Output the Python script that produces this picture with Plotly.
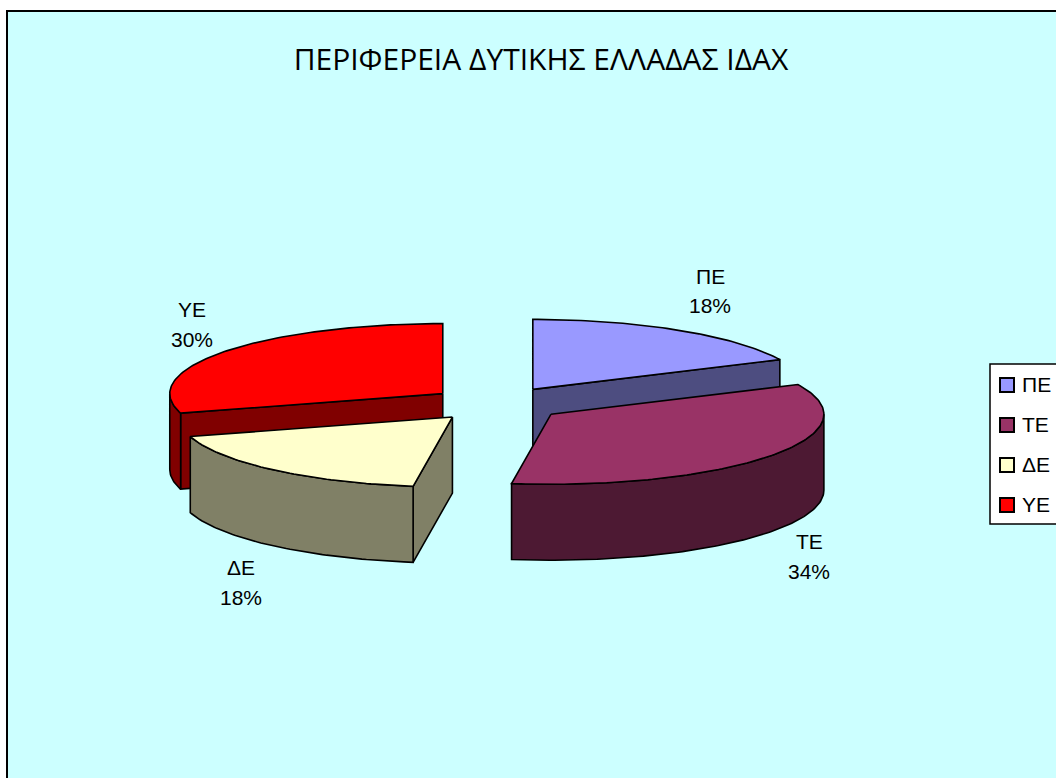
import math
import plotly.graph_objects as go

# --- data ---
categories = ["ΠΕ", "ΤΕ", "ΔΕ", "ΥΕ"]
values = [18.0, 34.3, 18.2, 29.5]
title_text = "ΠΕΡΙΦΕΡΕΙΑ ΔΥΤΙΚΗΣ ΕΛΛΑΔΑΣ ΙΔΑΧ"

# --- styles and layout ---
top_colors = ["#9999FF", "#993366", "#FFFFCC", "#FF0000"]
side_colors = ["#4D4D80", "#4D1933", "#808066", "#800000"]
label_pos = [(710, 276, 305), (809, 541, 571), (241, 567, 597), (192, 309, 339)]
legend_y = [384, 424, 464, 504]
CX, CY, RX, RY, DEPTH, EXPLODE = 496.7, 404, 273, 70, 76, 0.247
W, H = 1056, 778
LABEL_FONT = dict(family="Liberation Sans", size=21, color="black")


def project(apex, deg, r=1.0):
    a = math.radians(deg)
    return apex[0] + r * RX * math.sin(a), apex[1] - r * RY * math.cos(a)


def arc(apex, a0, a1, step=1.0):
    n = max(2, int(abs(a1 - a0) / step))
    return [project(apex, a0 + (a1 - a0) * i / n) for i in range(n + 1)]


total = sum(values)
slices = []
cum = 0
for v in values:
    a0 = 360 * cum / total
    a1 = 360 * (cum + v) / total
    apex = project((CX, CY), (a0 + a1) / 2, EXPLODE)
    slices.append((a0, a1, apex))
    cum += v

fig = go.Figure()


def poly(pts, color, name):
    xs = [p[0] for p in pts] + [pts[0][0]]
    ys = [p[1] for p in pts] + [pts[0][1]]
    fig.add_trace(go.Scatter(x=xs, y=ys, mode="lines", fill="toself", fillcolor=color,
                             line=dict(color="black", width=1.6), showlegend=False,
                             hoverinfo="text", text=name))


def down(pts):
    return [(x, y + DEPTH) for x, y in pts]


def draw_slice(i):
    a0, a1, apex = slices[i]
    c = side_colors[i]
    name = categories[i]
    # radial cut faces turned towards the viewer
    for deg, visible in ((a1, math.sin(math.radians(a1)) > 0), (a0, math.sin(math.radians(a0)) < 0)):
        if visible:
            edge = [apex, project(apex, deg)]
            poly(edge + down(edge)[::-1], c, name)
    # outer rim, visible on the front half
    r0, r1 = max(a0, 90), min(a1, 270)
    if r1 > r0:
        rim = arc(apex, r0, r1)
        poly(rim + down(rim)[::-1], c, name)
    # top face
    poly([apex] + arc(apex, a0, a1), top_colors[i], name)


for i in [0, 3, 1, 2]:
    draw_slice(i)

# legend box and entries
shapes = [dict(type="rect", xref="x", yref="y", x0=990, x1=1070, y0=364, y1=524,
               fillcolor="white", line=dict(color="black", width=1.5), layer="below")]
for i, cat in enumerate(categories):
    fig.add_trace(go.Scatter(x=[1007], y=[legend_y[i] + 1], mode="markers", showlegend=False,
                             hoverinfo="text", hovertext=cat,
                             marker=dict(symbol="square", size=14, color=top_colors[i],
                                         line=dict(color="black", width=2))))

ann = []
for i, cat in enumerate(categories):
    ann.append(dict(x=1020, y=legend_y[i], xref="x", yref="y", text=cat, showarrow=False,
                    xanchor="left", font=LABEL_FONT))

# data labels
for i, (lx, y1, y2) in enumerate(label_pos):
    pct = round(100 * values[i] / total)
    for txt, ly in ((categories[i], y1), (f"{pct}%", y2)):
        ann.append(dict(x=lx, y=ly, xref="x", yref="y", text=txt, showarrow=False, font=LABEL_FONT))

fig.update_layout(
    width=W, height=H, margin=dict(l=8, t=12, r=0, b=0, pad=0),
    paper_bgcolor="white", plot_bgcolor="#CCFFFF", showlegend=False,
    xaxis=dict(range=[8, W], side="top", showgrid=False, zeroline=False, showticklabels=False,
               ticks="", showline=True, linecolor="black", linewidth=1.5, fixedrange=True),
    yaxis=dict(range=[H, 12], showgrid=False, zeroline=False, showticklabels=False,
               ticks="", showline=True, linecolor="black", linewidth=1.5, fixedrange=True),
    title=dict(text=title_text, x=541 / W, xanchor="center", y=1 - 59 / H, yanchor="middle",
               font=dict(family="Open Sans", size=30, color="black")),
    annotations=ann, shapes=shapes,
)
fig.write_html("out.html", config={"displayModeBar": False},
               post_script="document.body.style.margin='0';")
